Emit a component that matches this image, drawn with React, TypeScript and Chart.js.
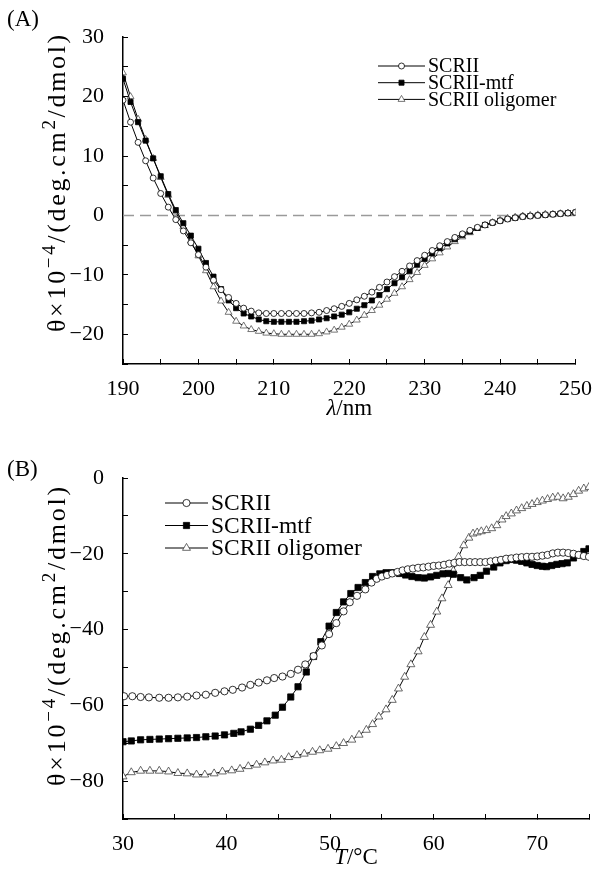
import React, { useEffect, useRef } from 'react';
import { Chart, registerables } from 'chart.js';
Chart.register(...registerables);

// ---------- Panel A: CD spectra ----------
const lambdaNm = [190, 191, 192, 193, 194, 195, 196, 197, 198, 199, 200, 201, 202, 203, 204, 205, 206, 207, 208, 209, 210, 211, 212, 213, 214, 215, 216, 217, 218, 219, 220, 221, 222, 223, 224, 225, 226, 227, 228, 229, 230, 231, 232, 233, 234, 235, 236, 237, 238, 239, 240, 241, 242, 243, 244, 245, 246, 247, 248, 249, 250];
const scriiA = [19.4, 15.7, 12.3, 9.2, 6.3, 3.7, 1.4, -0.7, -2.6, -4.6, -6.6, -8.7, -10.9, -12.5, -13.8, -14.8, -15.6, -16.1, -16.4, -16.5, -16.5, -16.5, -16.5, -16.5, -16.5, -16.4, -16.3, -16.0, -15.7, -15.3, -14.8, -14.2, -13.6, -12.9, -12.1, -11.2, -10.3, -9.4, -8.5, -7.6, -6.7, -5.9, -5.1, -4.4, -3.7, -3.1, -2.5, -2.0, -1.6, -1.2, -0.9, -0.6, -0.4, -0.2, -0.1, 0.0, 0.1, 0.2, 0.3, 0.4, 0.5];
const mtfA = [23.0, 19.1, 15.7, 12.6, 9.6, 6.6, 3.6, 0.9, -1.3, -3.4, -5.6, -8.0, -10.3, -12.4, -14.3, -15.6, -16.5, -17.0, -17.5, -17.8, -17.9, -17.9, -17.9, -17.9, -17.8, -17.7, -17.5, -17.3, -17.0, -16.7, -16.3, -15.7, -15.1, -14.3, -13.4, -12.4, -11.4, -10.4, -9.4, -8.3, -7.3, -6.4, -5.5, -4.7, -4.0, -3.3, -2.7, -2.1, -1.6, -1.2, -0.9, -0.6, -0.4, -0.2, -0.1, 0.0, 0.1, 0.2, 0.3, 0.4, 0.5];
const oligoA = [24.0, 20.0, 16.2, 12.8, 9.6, 6.4, 3.4, 0.6, -1.9, -4.3, -6.8, -9.3, -12.0, -14.4, -16.3, -17.8, -18.6, -19.2, -19.5, -19.8, -19.9, -20.0, -20.0, -20.0, -20.0, -20.0, -19.9, -19.6, -19.3, -18.8, -18.3, -17.6, -16.8, -16.0, -15.1, -14.1, -13.1, -12.0, -10.8, -9.6, -8.4, -7.3, -6.3, -5.3, -4.4, -3.6, -2.9, -2.2, -1.7, -1.2, -0.8, -0.5, -0.3, -0.1, 0.0, 0.1, 0.2, 0.2, 0.3, 0.4, 0.5];
const zeroLineX = [190, 250];
const zeroLineY = [0, 0];

// ---------- Panel B: thermal melts ----------
const scriiBT = [30.1, 30.9, 31.7, 32.5, 33.5, 34.4, 35.3, 36.2, 37.1, 38.0, 38.9, 39.8, 40.6, 41.5, 42.3, 43.1, 43.9, 44.6, 45.4, 46.2, 46.9, 47.6, 48.4, 49.2, 49.9, 50.6, 51.3, 51.9, 52.6, 53.4, 54.0, 54.5, 55.0, 55.5, 56.0, 56.5, 57.0, 57.5, 58.0, 58.5, 59.0, 59.5, 60.0, 60.5, 61.0, 61.5, 62.0, 62.5, 63.0, 63.5, 64.0, 64.5, 65.0, 65.5, 66.0, 66.5, 67.0, 67.5, 68.0, 68.5, 69.0, 69.5, 70.0, 70.5, 71.0, 71.5, 72.0, 72.5, 73.0, 73.5, 74.0, 74.5, 75.0];
const scriiBV = [-57.6, -57.6, -57.8, -57.9, -58.0, -58.0, -57.9, -57.7, -57.4, -57.2, -56.7, -56.3, -55.9, -55.3, -54.6, -54.0, -53.4, -52.8, -52.4, -51.7, -50.6, -49.2, -47.0, -44.2, -41.2, -38.3, -35.2, -32.8, -31.1, -29.4, -27.6, -26.6, -26.0, -25.6, -25.2, -24.8, -24.4, -24.1, -23.9, -23.7, -23.6, -23.4, -23.2, -23.1, -22.9, -22.6, -22.4, -22.2, -22.2, -22.2, -22.2, -22.2, -22.2, -22.0, -21.8, -21.6, -21.3, -21.2, -21.0, -20.9, -20.8, -20.8, -20.7, -20.5, -20.3, -19.9, -19.7, -19.7, -19.8, -20.0, -20.3, -20.6, -20.8];
const mtfBT = [30.0, 30.8, 31.7, 32.6, 33.5, 34.4, 35.3, 36.2, 37.1, 38.0, 38.9, 39.8, 40.7, 41.4, 42.3, 43.1, 43.9, 44.7, 45.4, 46.2, 46.9, 47.7, 48.4, 49.1, 49.9, 50.6, 51.3, 52.0, 52.7, 53.4, 54.1, 54.8, 55.4, 56.0, 56.7, 57.3, 57.9, 58.5, 59.1, 59.7, 60.3, 60.9, 61.4, 61.9, 62.6, 63.2, 63.9, 64.5, 65.1, 65.8, 66.4, 67.0, 67.4, 68.0, 68.5, 69.0, 69.5, 70.0, 70.5, 70.9, 71.4, 71.9, 72.4, 72.9, 73.5, 74.0, 74.5, 75.0];
const mtfBV = [-69.6, -69.4, -69.1, -69.0, -68.9, -68.8, -68.7, -68.6, -68.5, -68.3, -68.1, -67.8, -67.4, -67.0, -66.3, -65.3, -64.1, -62.6, -60.5, -57.8, -55.1, -51.2, -47.1, -43.2, -39.1, -35.5, -32.7, -30.5, -28.9, -27.6, -26.0, -25.3, -25.0, -25.0, -25.2, -25.6, -26.0, -26.3, -26.4, -26.1, -25.7, -25.3, -25.2, -25.4, -26.3, -26.9, -26.3, -25.7, -24.6, -23.5, -22.4, -21.8, -21.5, -21.7, -22.0, -22.4, -22.8, -23.1, -23.3, -23.4, -23.1, -22.8, -22.6, -22.4, -21.1, -20.3, -19.4, -18.7];
const oligoBT = [30.0, 30.8, 31.7, 32.6, 33.5, 34.4, 35.3, 36.2, 37.1, 37.9, 38.8, 39.6, 40.5, 41.3, 42.1, 42.9, 43.7, 44.5, 45.3, 46.0, 46.8, 47.5, 48.3, 49.0, 49.8, 50.6, 51.3, 52.1, 52.8, 53.5, 54.1, 54.7, 55.4, 56.0, 56.6, 57.2, 57.8, 58.5, 59.1, 59.7, 60.3, 60.8, 61.4, 61.9, 62.4, 62.9, 63.4, 63.8, 64.2, 64.6, 65.1, 65.6, 66.1, 66.6, 67.0, 67.5, 68.0, 68.5, 69.0, 69.5, 70.0, 70.5, 71.0, 71.5, 72.0, 72.5, 73.0, 73.5, 74.0, 74.5, 75.0];
const oligoBV = [-78.8, -77.7, -77.3, -77.3, -77.3, -77.5, -77.9, -78.0, -78.3, -78.3, -78.0, -77.5, -77.2, -76.8, -76.1, -75.7, -75.1, -74.6, -74.4, -73.7, -73.2, -72.8, -72.3, -71.9, -71.5, -70.8, -70.0, -69.1, -67.8, -66.5, -65.0, -63.0, -61.1, -58.6, -55.6, -52.5, -49.2, -45.8, -42.0, -38.8, -35.3, -31.8, -28.3, -24.5, -20.8, -17.8, -15.8, -14.7, -14.4, -14.1, -13.8, -13.3, -12.5, -11.0, -10.1, -9.4, -8.6, -8.0, -7.4, -6.9, -6.4, -6.0, -5.6, -5.2, -5.0, -5.4, -5.0, -4.3, -3.4, -2.8, -2.4];

const seriesNames = ['SCRII', 'SCRII-mtf', 'SCRII oligomer'];
const yTicksA = { min: -25, max: 30, step: 5, labelEvery: 10 };
const xTicksA = { min: 190, max: 250, step: 5, labelEvery: 10 };
const yTicksB = { min: -90, max: 0, step: 10, labelEvery: 20 };
const xTicksB = { min: 30, max: 75, step: 5, labelEvery: 10 };

const SERIF = '"Liberation Serif", "Times New Roman", serif';

function pts(xs: number[], ys: number[]) {
  return xs.map((x, i) => ({ x, y: ys[i] }));
}

function drawMarker(ctx: CanvasRenderingContext2D, style: string, x: number, y: number, r: number, fill: string, stroke: string, bw: number) {
  ctx.save();
  ctx.beginPath();
  if (style === 'circle') {
    ctx.arc(x, y, r, 0, Math.PI * 2);
  } else if (style === 'rect') {
    const s = r * Math.SQRT1_2;
    ctx.rect(x - s, y - s, 2 * s, 2 * s);
  } else {
    const a = Math.PI * 2 / 3;
    ctx.moveTo(x, y - r);
    ctx.lineTo(x + Math.sin(a) * r, y - Math.cos(a) * r);
    ctx.lineTo(x + Math.sin(2 * a) * r, y - Math.cos(2 * a) * r);
    ctx.closePath();
  }
  ctx.fillStyle = fill;
  ctx.fill();
  ctx.lineWidth = bw;
  ctx.strokeStyle = stroke;
  ctx.stroke();
  ctx.restore();
}

type Deco = {
  panel: string; panelY: number;
  xTitle: [string, string]; xTitleY: number;
  yTitleCx: number; yTitleCy: number; yTitleLen: number;
  legX: number; legY: number; legDy: number; legLen: number; legFont: number;
};

function decoPlugin(d: Deco) {
  return {
    id: 'deco',
    afterDraw(chart: any) {
      const ctx: any = chart.ctx;
      ctx.save();
      ctx.fillStyle = '#000';
      ctx.textBaseline = 'middle';
      // panel label
      ctx.font = `23px ${SERIF}`;
      ctx.textAlign = 'left';
      ctx.fillText(d.panel, 7, d.panelY);
      // x title with italic symbol
      const area = chart.chartArea;
      const cx = (area.left + area.right) / 2;
      ctx.font = `italic 23px ${SERIF}`;
      const w1 = ctx.measureText(d.xTitle[0]).width;
      ctx.font = `23px ${SERIF}`;
      const w2 = ctx.measureText(d.xTitle[1]).width;
      const sx = cx - (w1 + w2) / 2;
      ctx.font = `italic 23px ${SERIF}`;
      ctx.fillText(d.xTitle[0], sx, d.xTitleY);
      ctx.font = `23px ${SERIF}`;
      ctx.fillText(d.xTitle[1], sx + w1, d.xTitleY);
      // y title rotated with superscripts, spread to the reference length
      const parts: [string, boolean][] = [['θ×10', false], ['−4', true], ['/(deg.cm', false], ['2', true], ['/dmol)', false]];
      const big = 26, small = 19;
      let total = 0;
      let nChars = 0;
      ctx.letterSpacing = '0px';
      parts.forEach(([t, sup]) => {
        ctx.font = `${sup ? small : big}px ${SERIF}`;
        total += ctx.measureText(t).width;
        nChars += Array.from(t).length;
      });
      const spacing = Math.max(0, (d.yTitleLen - total) / nChars);
      ctx.translate(d.yTitleCx, d.yTitleCy);
      ctx.rotate(-Math.PI / 2);
      ctx.letterSpacing = `${spacing.toFixed(2)}px`;
      let px = -d.yTitleLen / 2;
      parts.forEach(([t, sup]) => {
        ctx.font = `${sup ? small : big}px ${SERIF}`;
        ctx.fillText(t, px, sup ? -8 : 0);
        px += ctx.measureText(t).width;
      });
      ctx.restore();

      // legend
      ctx.save();
      ctx.font = `${d.legFont}px ${SERIF}`;
      ctx.textBaseline = 'middle';
      ctx.fillStyle = '#000';
      let row = 0;
      chart.data.datasets.forEach((ds: any) => {
        if (!ds.label) return;
        const y = d.legY + row * d.legDy;
        ctx.beginPath();
        ctx.moveTo(d.legX, y);
        ctx.lineTo(d.legX + d.legLen, y);
        ctx.lineWidth = 1;
        ctx.strokeStyle = ds.borderColor;
        ctx.stroke();
        drawMarker(ctx, ds.pointStyle, d.legX + d.legLen / 2, y, ds.pointRadius, ds.pointBackgroundColor, ds.pointBorderColor, ds.pointBorderWidth);
        ctx.fillStyle = '#000';
        ctx.fillText(ds.label, d.legX + d.legLen + 3, y + 1);
        row++;
      });
      ctx.restore();
    },
  };
}

function axis(t: { min: number; max: number; step: number; labelEvery: number }, isX: boolean, size: number) {
  return {
    type: 'linear',
    position: isX ? 'bottom' : 'left',
    min: t.min,
    max: t.max,
    afterFit: (s: any) => {
      if (isX) s.height = size; else s.width = size;
    },
    ticks: {
      stepSize: t.step,
      autoSkip: false,
      maxRotation: 0,
      color: '#000',
      font: { family: SERIF, size: 22 },
      padding: isX ? 17 : 24,
      callback: (v: number) => (Math.abs(v % t.labelEvery) < 1e-9 ? String(v).replace('-', '−') : ''),
    },
    grid: { drawOnChartArea: false, drawTicks: true, tickLength: -5, color: '#000', lineWidth: 1 },
    border: { display: true, color: '#000', width: 1.5 },
  };
}

function ds(label: string, data: any[], style: string, r: number, fill: string, stroke: string) {
  return {
    label, data, pointStyle: style, pointRadius: r, pointHoverRadius: r,
    pointBackgroundColor: fill, pointBorderColor: stroke, pointBorderWidth: 0.8,
    borderColor: '#000', borderWidth: 1, tension: 0, fill: false,
  };
}

function makeA(canvas: HTMLCanvasElement) {
  const yAx: any = axis(yTicksA, false, 123);
  yAx.ticks.callback = (v: number) => (v % 10 === 0 && v > -25 ? String(v).replace('-', '−') : '');
  return new Chart(canvas, {
    type: 'line',
    data: {
      datasets: [
        ds(seriesNames[0], pts(lambdaNm, scriiA), 'circle', 3, '#fff', '#000'),
        ds(seriesNames[1], pts(lambdaNm, mtfA), 'rect', 3.6, '#000', '#000'),
        ds(seriesNames[2], pts(lambdaNm, oligoA), 'triangle', 4, '#fff', '#555'),
        {
          label: '', data: pts(zeroLineX, zeroLineY), borderColor: '#9a9a9a', borderWidth: 1.5,
          borderDash: [11, 6], pointRadius: 0, fill: false,
        },
      ],
    } as any,
    options: {
      responsive: false,
      animation: false,
      layout: { padding: { left: 0, top: 22, right: 20, bottom: 0 } },
      plugins: { legend: { display: false }, tooltip: { enabled: false } },
      scales: { x: axis(xTicksA, true, 66), y: yAx } as any,
    },
    plugins: [decoPlugin({
      panel: '(A)', panelY: 20, xTitle: ['λ', '/nm'], xTitleY: 409,
      yTitleCx: 58, yTitleCy: 182, yTitleLen: 300,
      legX: 378, legY: 66, legDy: 16.7, legLen: 47, legFont: 20,
    })],
  } as any);
}

function makeB(canvas: HTMLCanvasElement) {
  return new Chart(canvas, {
    type: 'line',
    data: {
      datasets: [
        ds(seriesNames[0], pts(scriiBT, scriiBV), 'circle', 3.6, '#fff', '#000'),
        ds(seriesNames[1], pts(mtfBT, mtfBV), 'rect', 4.4, '#000', '#000'),
        ds(seriesNames[2], pts(oligoBT, oligoBV), 'triangle', 4.6, '#fff', '#444'),
      ],
    } as any,
    options: {
      responsive: false,
      animation: false,
      layout: { padding: { left: 0, top: 48, right: 20, bottom: 0 } },
      plugins: { legend: { display: false }, tooltip: { enabled: false } },
      scales: { x: axis(xTicksB, true, 53), y: axis(yTicksB, false, 123) } as any,
    },
    plugins: [decoPlugin({
      panel: '(B)', panelY: 40, xTitle: ['T', '/°C'], xTitleY: 428,
      yTitleCx: 58, yTitleCy: 205, yTitleLen: 302,
      legX: 165, legY: 73, legDy: 22.5, legLen: 43, legFont: 23.5,
    })],
  } as any);
}

export default function App() {
  const refA = useRef<HTMLCanvasElement>(null);
  const refB = useRef<HTMLCanvasElement>(null);
  useEffect(() => {
    const a = makeA(refA.current!);
    const b = makeB(refB.current!);
    return () => { a.destroy(); b.destroy(); };
  }, []);
  return (
    <div style={{ position: 'absolute', left: 0, top: 0, width: 609, height: 872, background: '#fff' }}>
      <canvas ref={refA} width={609} height={430} style={{ position: 'absolute', left: 0, top: 0, width: 609, height: 430 }} />
      <canvas ref={refB} width={609} height={442} style={{ position: 'absolute', left: 0, top: 430, width: 609, height: 442 }} />
    </div>
  );
}
